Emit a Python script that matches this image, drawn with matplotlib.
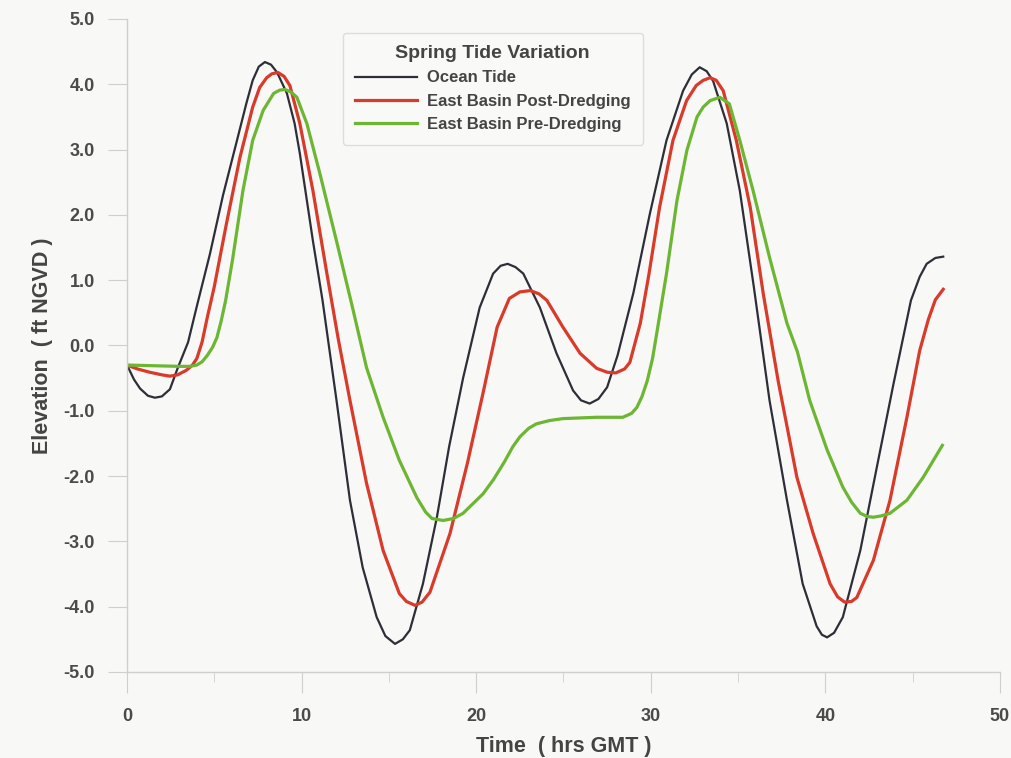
import matplotlib
matplotlib.use('Agg')
import matplotlib.pyplot as plt
from matplotlib.ticker import MultipleLocator, FormatStrFormatter

# Ocean tide (black)
t_ocean = [0, 0.4, 0.75, 1.2, 1.6, 2.0, 2.46, 2.9, 3.5, 4.0, 4.75, 5.5, 6.3, 6.85, 7.2,
           7.55, 7.9, 8.25, 8.6, 9.16, 9.6, 9.9, 10.65, 11.2, 12.0, 12.77, 13.5, 14.3,
           14.8, 15.35, 15.8, 16.2, 16.95, 17.75, 18.45, 19.25, 20.2, 20.97, 21.4, 21.8,
           22.25, 22.7, 23.65, 24.6, 25.55, 26.0, 26.5, 27.0, 27.5, 28.1, 29.0, 29.95,
           30.9, 31.85, 32.35, 32.8, 33.2, 33.57, 34.35, 35.1, 35.9, 36.8, 37.8, 38.7,
           39.5, 39.8, 40.1, 40.5, 41.0, 42.0, 42.95, 43.9, 44.9, 45.4, 45.8, 46.3, 46.75]
v_ocean = [-0.3, -0.52, -0.66, -0.77, -0.8, -0.78, -0.67, -0.35, 0.05, 0.6, 1.4, 2.3,
           3.14, 3.72, 4.06, 4.27, 4.34, 4.3, 4.18, 3.86, 3.4, 2.94, 1.6, 0.69, -0.84,
           -2.37, -3.4, -4.16, -4.45, -4.57, -4.5, -4.36, -3.65, -2.63, -1.55, -0.5, 0.58,
           1.1, 1.22, 1.25, 1.2, 1.1, 0.58, -0.12, -0.69, -0.84, -0.89, -0.82, -0.64,
           -0.15, 0.8, 2.02, 3.14, 3.9, 4.15, 4.26, 4.2, 4.05, 3.4, 2.37, 0.9, -0.84,
           -2.37, -3.65, -4.3, -4.43, -4.47, -4.4, -4.16, -3.14, -1.86, -0.59, 0.69, 1.05,
           1.25, 1.34, 1.36]

# East basin post-dredging (red)
t_post = [0, 0.6, 1.3, 2.0, 2.46, 2.9, 3.4, 3.75, 4.0, 4.3, 4.6, 5.0, 5.7, 6.47, 7.2,
          7.6, 8.0, 8.3, 8.65, 9.0, 9.33, 9.9, 10.65, 11.45, 12.1, 12.77, 13.72, 14.67,
          15.6, 16.0, 16.5, 16.9, 17.35, 18.5, 19.5, 20.4, 21.2, 21.9, 22.5, 23.1, 23.6,
          24.05, 24.97, 25.95, 26.9, 27.5, 28.0, 28.5, 28.8, 29.4, 29.9, 30.5, 31.27,
          32.05, 32.6, 33.0, 33.4, 33.75, 34.15, 34.9, 35.7, 36.45, 37.3, 38.37, 39.3,
          40.27, 40.7, 41.1, 41.5, 41.8, 42.75, 43.7, 44.67, 45.4, 45.9, 46.3, 46.75]
v_post = [-0.3, -0.36, -0.41, -0.45, -0.47, -0.45, -0.38, -0.3, -0.2, 0.05, 0.43, 0.9,
          1.87, 2.88, 3.65, 3.95, 4.1, 4.16, 4.18, 4.12, 3.98, 3.4, 2.37, 1.1, 0.1, -0.84,
          -2.11, -3.14, -3.8, -3.92, -3.98, -3.93, -3.78, -2.88, -1.8, -0.72, 0.28, 0.72,
          0.82, 0.84, 0.79, 0.69, 0.28, -0.12, -0.35, -0.41, -0.42, -0.36, -0.26, 0.34,
          1.1, 2.11, 3.14, 3.75, 3.98, 4.06, 4.1, 4.06, 3.9, 3.14, 2.11, 0.78, -0.55,
          -2.02, -2.88, -3.65, -3.85, -3.93, -3.92, -3.86, -3.29, -2.37, -1.1, -0.08, 0.4,
          0.7, 0.86]

# East basin pre-dredging (green)
t_pre = [0, 1.5, 3.0, 3.6, 4.0, 4.3, 4.58, 4.9, 5.15, 5.4, 5.65, 6.05, 6.64, 7.2, 7.8,
         8.4, 8.75, 9.05, 9.4, 9.73, 10.3, 11.05, 12.0, 12.9, 13.72, 14.67, 15.6, 16.6,
         17.1, 17.47, 18.1, 18.7, 19.25, 20.4, 21.0, 21.6, 22.1, 22.5, 23.0, 23.45, 24.2,
         24.97, 26.9, 28.4, 28.9, 29.2, 29.5, 29.8, 30.1, 30.35, 30.9, 31.5, 32.07,
         32.65, 33.0, 33.4, 33.96, 34.5, 35.1, 35.86, 36.8, 37.8, 38.4, 39.1, 40.1, 41.0,
         41.5, 42.0, 42.4, 42.75, 43.2, 43.7, 44.67, 45.6, 46.7]
v_pre = [-0.3, -0.31, -0.32, -0.32, -0.3, -0.25, -0.16, -0.03, 0.12, 0.38, 0.69, 1.32,
         2.37, 3.14, 3.6, 3.86, 3.91, 3.92, 3.88, 3.8, 3.4, 2.63, 1.6, 0.6, -0.34, -1.1,
         -1.76, -2.33, -2.55, -2.65, -2.68, -2.65, -2.57, -2.27, -2.05, -1.79, -1.55,
         -1.4, -1.27, -1.2, -1.15, -1.12, -1.1, -1.1, -1.04, -0.95, -0.78, -0.54, -0.2,
         0.2, 1.1, 2.22, 2.99, 3.5, 3.65, 3.75, 3.8, 3.7, 3.14, 2.37, 1.35, 0.34, -0.1,
         -0.84, -1.6, -2.17, -2.4, -2.57, -2.62, -2.63, -2.61, -2.57, -2.37, -2.02, -1.53]

plt.rcParams['font.family'] = ['Liberation Sans', 'DejaVu Sans']

bg = '#f8f8f6'
fig = plt.figure(figsize=(10.11, 7.58), dpi=100, facecolor=bg)
ax = fig.add_axes([0.1256, 0.1135, 0.8635, 0.8615], facecolor=bg)

ax.plot(t_ocean, v_ocean, color='#2e2e38', lw=1.6, label='Ocean Tide')
ax.plot(t_post, v_post, color='#d93b2b', lw=2.3, label='East Basin Post-Dredging')
ax.plot(t_pre, v_pre, color='#6cb634', lw=2.3, label='East Basin Pre-Dredging')

ax.set_xlim(0, 50)
ax.set_ylim(-5, 5)

for s in ['top', 'right']:
    ax.spines[s].set_visible(False)
for s in ['left', 'bottom']:
    ax.spines[s].set_color('#cfcfcf')
    ax.spines[s].set_linewidth(1.0)

ax.xaxis.set_major_locator(MultipleLocator(10))
ax.xaxis.set_minor_locator(MultipleLocator(5))
ax.yaxis.set_major_locator(MultipleLocator(1))
ax.yaxis.set_major_formatter(FormatStrFormatter('%.1f'))

ax.tick_params(axis='x', which='major', length=15, color='#cfcfcf', pad=11,
               labelsize=13, labelcolor='#4a4a4a')
ax.tick_params(axis='x', which='minor', length=7, color='#cfcfcf')
ax.tick_params(axis='y', which='major', length=14, color='#cfcfcf', pad=9,
               labelsize=13, labelcolor='#4a4a4a')
for lab in ax.get_xticklabels() + ax.get_yticklabels():
    lab.set_fontweight('bold')

ax.set_xlabel('Time  ( hrs GMT )', fontsize=15.5, fontweight='bold', color='#444444',
              labelpad=8)
ax.set_ylabel('Elevation  ( ft NGVD )', fontsize=15.5, fontweight='bold', color='#444444',
              labelpad=8)

leg = ax.legend(loc='upper left', bbox_to_anchor=(0.247, 0.979), borderaxespad=0,
                title='Spring Tide Variation', handlelength=3.7,
                prop={'size': 12, 'weight': 'bold'},
                handletextpad=0.6, labelspacing=0.5, frameon=True, fancybox=True,
                edgecolor='#dddddd', facecolor='#f9f9f8', framealpha=1,
                borderpad=0.75)
leg.get_title().set_fontsize(14)
leg.get_title().set_fontweight('bold')
leg.get_title().set_color('#444444')
for txt in leg.get_texts():
    txt.set_color('#444444')

fig.savefig('out.png', dpi=100, facecolor=bg)
